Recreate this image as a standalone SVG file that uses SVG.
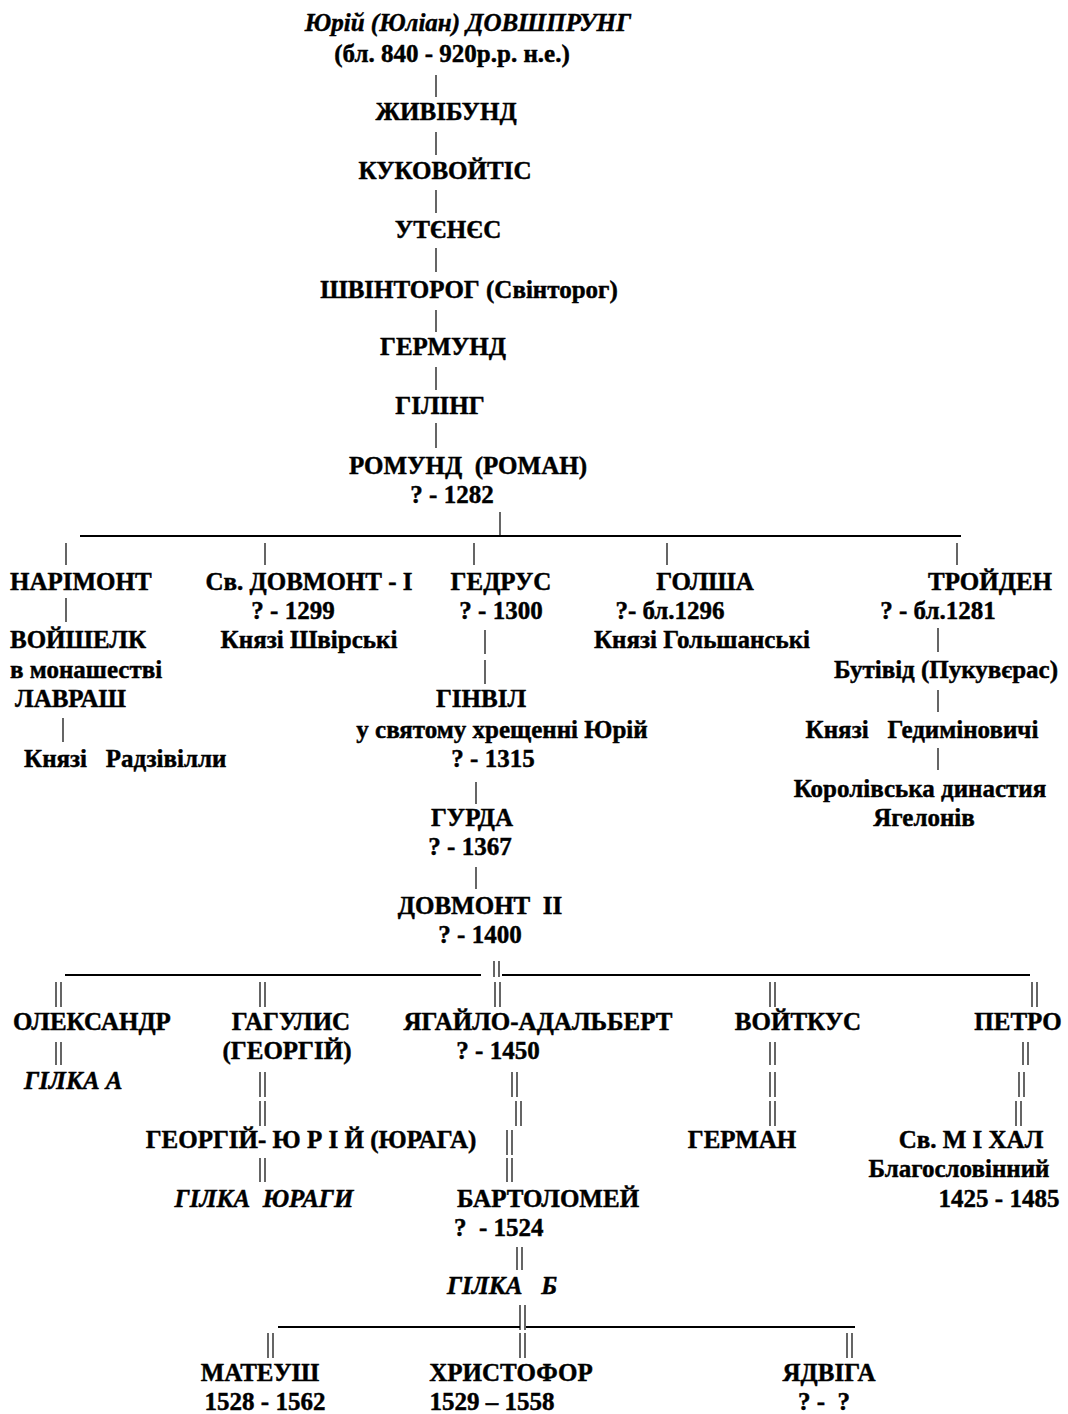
<svg xmlns="http://www.w3.org/2000/svg" width="1068" height="1414" viewBox="0 0 1068 1414">
<style>
text{font-family:"Liberation Serif","Times New Roman",serif;font-weight:bold;font-size:25px;fill:#000;stroke:#000;stroke-width:0.45;white-space:pre}
.c{text-anchor:middle}
.i{font-style:italic}
.p{stroke:#000;stroke-width:1.2;fill:none}
.h{stroke:#000;stroke-width:2;fill:none}
</style>
<rect width="1068" height="1414" fill="#fff"/>
<g id="connectors">
<path class="p" d="M436 75V97M436 132V155M436 190V213M436 248V272M436 310V332M436 367V390M436 423V448"/>
<path class="p" d="M500 512V537"/>
<path class="h" d="M80 536H961"/>
<path class="p" d="M66 543V565M265 543V565M474 543V565M667 543V565M957 543V565"/>
<path class="p" d="M66 598V622M485 630V654M485 660V684M938 628V652M938 690V712M938 748V770M63 718V742M476 782V804M476 867V889"/>
<path class="p" d="M494 961V977M499 961V977"/>
<path class="h" d="M65 975H481M502 975H1030"/>
<path class="p" d="M56 982V1007M61 982V1007M260 982V1007M265 982V1007M495 982V1007M500 982V1007M770 982V1007M775 982V1007M1032 982V1007M1037 982V1007"/>
<path class="p" d="M56 1042V1065M61 1042V1065"/>
<path class="p" d="M260 1072V1097M265 1072V1097M260 1101V1126M265 1101V1126M260 1158V1182M265 1158V1182"/>
<path class="p" d="M512 1072V1097M517 1072V1097M516 1101V1126M521 1101V1126M507 1130V1155M512 1130V1155M507 1158V1182M512 1158V1182"/>
<path class="p" d="M770 1042V1065M775 1042V1065M770 1072V1097M775 1072V1097M770 1101V1126M775 1101V1126"/>
<path class="p" d="M1023 1042V1065M1028 1042V1065M1019 1072V1097M1024 1072V1097M1016 1101V1126M1021 1101V1126"/>
<path class="p" d="M517 1247V1270M522 1247V1270"/>
<path class="p" d="M520 1305V1330M525 1305V1330"/>
<path class="h" d="M278 1327H520M526 1327H855"/>
<path class="p" d="M268 1333V1358M273 1333V1358M520 1333V1358M525 1333V1358M847 1333V1358M852 1333V1358"/>
</g>
<g id="n-dovshprung"><text class="c i" x="468" y="31">Юрій (Юліан) ДОВШПРУНГ</text><text class="c" x="452" y="62">(бл. 840 - 920р.р. н.е.)</text></g>
<g id="n-zhyvibund"><text class="c" x="446" y="120">ЖИВІБУНД</text></g>
<g id="n-kukovoitis"><text class="c" x="445" y="179">КУКОВОЙТІС</text></g>
<g id="n-utenes"><text class="c" x="448" y="238">УТЄНЄС</text></g>
<g id="n-shvintorog"><text class="c" x="469" y="298">ШВІНТОРОГ (Свінторог)</text></g>
<g id="n-germund"><text class="c" x="443" y="355">ГЕРМУНД</text></g>
<g id="n-giling"><text class="c" x="440" y="414">ГІЛІНГ</text></g>
<g id="n-romund"><text class="c" x="468" y="474">РОМУНД  (РОМАН)</text><text class="c" x="452" y="503">? - 1282</text></g>
<g id="n-narimont"><text x="10" y="590">НАРІМОНТ</text></g>
<g id="n-voishelk"><text x="10" y="648">ВОЙШЕЛК</text><text x="10" y="678">в монашестві</text><text x="15" y="707">ЛАВРАШ</text></g>
<g id="n-radzivilly"><text x="24" y="767">Князі   Радзівілли</text></g>
<g id="n-dovmont1"><text class="c" x="309" y="590">Св. ДОВМОНТ - І</text><text class="c" x="293" y="619">? - 1299</text><text class="c" x="309" y="648">Князі Швірські</text></g>
<g id="n-gedrus"><text class="c" x="501" y="590">ГЕДРУС</text><text class="c" x="501" y="619">? - 1300</text></g>
<g id="n-golsha"><text class="c" x="705" y="590">ГОЛША</text><text class="c" x="670" y="619">?- бл.1296</text><text class="c" x="702" y="648">Князі Гольшанські</text></g>
<g id="n-troiden"><text class="c" x="990" y="590">ТРОЙДЕН</text><text class="c" x="938" y="619">? - бл.1281</text></g>
<g id="n-butivid"><text class="c" x="946" y="678">Бутівід (Пукувєрас)</text></g>
<g id="n-gediminovychi"><text class="c" x="922" y="738">Князі   Гедиміновичі</text></g>
<g id="n-yagelony"><text class="c" x="920" y="797">Королівська династия</text><text class="c" x="924" y="826">Ягелонів</text></g>
<g id="n-ginvil"><text class="c" x="481" y="707">ГІНВІЛ</text><text class="c" x="502" y="738">у святому хрещенні Юрій</text><text class="c" x="493" y="767">? - 1315</text></g>
<g id="n-gurda"><text class="c" x="472" y="826">ГУРДА</text><text class="c" x="470" y="855">? - 1367</text></g>
<g id="n-dovmont2"><text class="c" x="480" y="914">ДОВМОНТ  ІІ</text><text class="c" x="480" y="943">? - 1400</text></g>
<g id="n-oleksandr"><text class="c" x="92" y="1030">ОЛЕКСАНДР</text><text class="i" x="24" y="1089">ГІЛКА А</text></g>
<g id="n-gagulis"><text class="c" x="291" y="1030">ГАГУЛИС</text><text class="c" x="287" y="1059">(ГЕОРГІЙ)</text></g>
<g id="n-juraga"><text class="c" x="311" y="1148">ГЕОРГІЙ- Ю Р І Й (ЮРАГА)</text><text class="c i" x="264" y="1207">ГІЛКА  ЮРАГИ</text></g>
<g id="n-yagailo"><text class="c" x="538" y="1030">ЯГАЙЛО-АДАЛЬБЕРТ</text><text class="c" x="498" y="1059">? - 1450</text></g>
<g id="n-bartolomei"><text class="c" x="548" y="1207">БАРТОЛОМЕЙ</text><text x="454" y="1236">?  - 1524</text><text class="c i" x="502" y="1294">ГІЛКА   Б</text></g>
<g id="n-voitkus"><text class="c" x="798" y="1030">ВОЙТКУС</text></g>
<g id="n-german"><text class="c" x="742" y="1148">ГЕРМАН</text></g>
<g id="n-petro"><text class="c" x="1018" y="1030">ПЕТРО</text></g>
<g id="n-mikhal"><text class="c" x="971" y="1148">Св. М І ХАЛ</text><text class="c" x="959" y="1177">Благословінний</text><text class="c" x="999" y="1207">1425 - 1485</text></g>
<g id="n-mateush"><text class="c" x="260" y="1381">МАТЕУШ</text><text class="c" x="265" y="1410">1528 - 1562</text></g>
<g id="n-khrystofor"><text class="c" x="511" y="1381">ХРИСТОФОР</text><text class="c" x="492" y="1410">1529 – 1558</text></g>
<g id="n-yadviga"><text class="c" x="829" y="1381">ЯДВІГА</text><text class="c" x="824" y="1410">? -  ?</text></g>
</svg>
